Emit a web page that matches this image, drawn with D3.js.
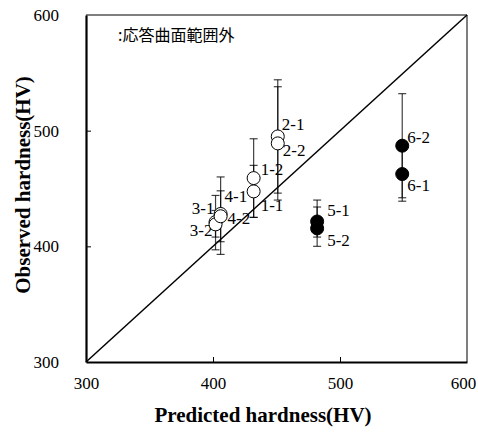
<!DOCTYPE html>
<html>
<head>
<meta charset="utf-8">
<script src="https://cdn.jsdelivr.net/npm/d3@7/dist/d3.min.js"></script>
<style>
  html, body { margin: 0; padding: 0; background: #fff; }
  svg { display: block; }
</style>
</head>
<body>
<svg id="chart" width="478" height="433"></svg>
<script>
// Sample labels and hardness values (HV)
const labels    = ["1-1", "1-2", "2-1", "2-2", "3-1", "3-2", "4-1", "4-2", "5-1", "5-2", "6-1", "6-2"];
const predicted = [432, 432, 451, 451, 402, 402, 406, 406, 482, 482, 549, 549];
const observed  = [447.5, 459, 495, 489, 421, 419, 428, 426, 421.5, 415.5, 462.5, 487];
const errLow    = [425, 425, 446, 440, 397, 408, 393, 404, 408, 400, 439, 442];
const errHigh   = [470, 493, 544, 538, 444, 431, 460, 448, 440, 434, 486, 532];
// true = outside the response-surface range (filled marker)
const outside   = [false, false, false, false, false, false, false, false, true, true, true, true];

// Label offsets (px) and anchors for each point
const labelDx   = [7, 7, 4, 5, -1, -3, 4, 7, 10, 10, 5, 5];
const labelDy   = [20, -3, -6, 13, -8, 12, -12, 8, -5, 18, 17, -3];
const labelEnd  = [false, false, false, false, true, true, false, false, false, false, false, false];

const xTicks = [300, 400, 500, 600];
const yTicks = [300, 400, 500, 600];

const svg = d3.select("#chart");
const x = d3.scaleLinear().domain([300, 600]).range([86, 467]);
const y = d3.scaleLinear().domain([300, 600]).range([362, 15]);
const serif = "'Liberation Serif', 'Times New Roman', serif";

// frame: top and right sides
svg.append("line").attr("x1", x(300)).attr("x2", x(600)).attr("y1", y(600)).attr("y2", y(600))
  .attr("stroke", "#555").attr("stroke-width", 1.5);
svg.append("line").attr("x1", x(600)).attr("x2", x(600)).attr("y1", y(600)).attr("y2", y(300))
  .attr("stroke", "#555").attr("stroke-width", 1.5);

// axes with inward ticks
const xAxis = svg.append("g").attr("transform", `translate(0,${y(300)})`)
  .call(d3.axisBottom(x).tickValues(xTicks).tickSizeInner(-5).tickSizeOuter(0).tickPadding(15));
const yAxis = svg.append("g").attr("transform", `translate(${x(300)},0)`)
  .call(d3.axisLeft(y).tickValues(yTicks).tickSizeInner(-5).tickSizeOuter(0).tickPadding(27));
[xAxis, yAxis].forEach(g => {
  g.select(".domain").attr("stroke", "#000").attr("stroke-width", 2.2);
  g.selectAll(".tick line").attr("stroke", "#000").attr("stroke-width", 1);
  g.selectAll(".tick text").attr("font-family", serif).attr("font-size", 17).attr("fill", "#000");
});
xAxis.selectAll(".tick").filter(d => d === 300 || d === 600).select("line").remove();
yAxis.selectAll(".tick").filter(d => d === 300 || d === 600).select("line").remove();
// keep the last x label inside the page edge
xAxis.selectAll(".tick").filter(d => d === 600).select("text").attr("dx", -4);

// 1:1 line
svg.append("line").attr("x1", x(300)).attr("y1", y(300)).attr("x2", x(600)).attr("y2", y(600))
  .attr("stroke", "#000").attr("stroke-width", 1.5);

// axis titles
svg.append("text").attr("x", 263).attr("y", 422).attr("text-anchor", "middle")
  .attr("font-family", serif).attr("font-weight", "bold").attr("font-size", 21)
  .text("Predicted hardness(HV)");
svg.append("text").attr("transform", "translate(30,185) rotate(-90)").attr("text-anchor", "middle")
  .attr("font-family", serif).attr("font-weight", "bold").attr("font-size", 21)
  .text("Observed hardness(HV)");

// legend note
svg.append("text").attr("x", 118).attr("y", 41)
  .attr("font-family", "'Noto Sans CJK JP', sans-serif").attr("font-size", 16)
  .text(":応答曲面範囲外");

const idx = d3.range(labels.length);

// point labels
svg.append("g").selectAll("text").data(idx).join("text")
  .attr("x", i => x(predicted[i]) + labelDx[i])
  .attr("y", i => y(observed[i]) + labelDy[i])
  .attr("text-anchor", i => labelEnd[i] ? "end" : "start")
  .attr("font-family", serif).attr("font-size", 17)
  .text(i => labels[i]);

// error bars
const eb = svg.append("g").attr("stroke", "#000").attr("stroke-opacity", 0.75).attr("stroke-width", 1.2);
idx.forEach(i => {
  const cx = x(predicted[i]);
  eb.append("line").attr("x1", cx).attr("x2", cx).attr("y1", y(errLow[i])).attr("y2", y(errHigh[i]));
  [errLow[i], errHigh[i]].forEach(v => {
    eb.append("line").attr("x1", cx - 4).attr("x2", cx + 4).attr("y1", y(v)).attr("y2", y(v));
  });
});

// markers
svg.append("g").selectAll("circle").data(idx).join("circle")
  .attr("cx", i => x(predicted[i]))
  .attr("cy", i => y(observed[i]))
  .attr("r", 6.5)
  .attr("fill", i => outside[i] ? "#000" : "#fff")
  .attr("stroke", "#000").attr("stroke-width", 1);
</script>
</body>
</html>
